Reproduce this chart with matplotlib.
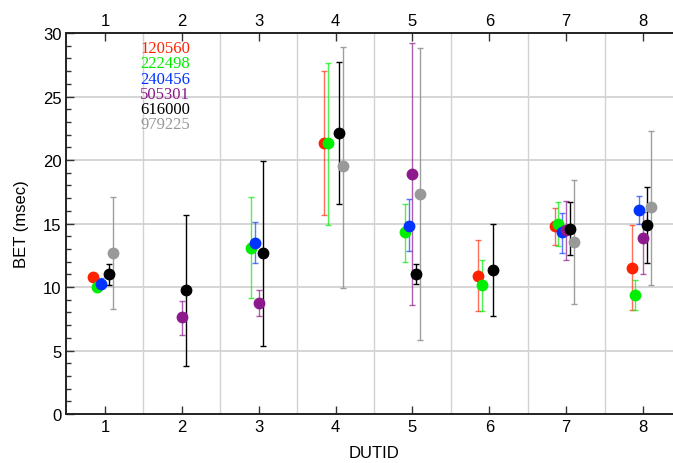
"""BET per DUTID with error bars, one colour per serial number."""

import matplotlib

matplotlib.use("Agg")
import matplotlib.pyplot as plt
import numpy as np
from matplotlib.ticker import MultipleLocator

nan = np.nan

DUTID = [1, 2, 3, 4, 5, 6, 7, 8]
SERIALS = ["120560", "222498", "240456", "505301", "616000", "979225"]
COLORS = ["#ff2200", "#00ee00", "#0033ff", "#8c1a8c", "#000000", "#999999"]

bet_120560 = [10.8, nan, nan, 21.3, nan, 10.9, 14.8, 11.5]
lo_120560 = [10.6, nan, nan, 15.7, nan, 8.1, 13.3, 8.2]
hi_120560 = [11.0, nan, nan, 27.0, nan, 13.7, 16.2, 14.9]

bet_222498 = [10.0, nan, 13.1, 21.3, 14.3, 10.15, 14.95, 9.4]
lo_222498 = [9.9, nan, 9.1, 14.9, 12.0, 8.1, 13.2, 8.2]
hi_222498 = [10.2, nan, 17.1, 27.6, 16.5, 12.15, 16.7, 10.55]

bet_240456 = [10.2, nan, 13.5, nan, 14.8, nan, 14.3, 16.1]
lo_240456 = [10.0, nan, 11.9, nan, 12.8, nan, 12.65, 14.95]
hi_240456 = [10.7, nan, 15.1, nan, 16.9, nan, 15.8, 17.2]

bet_505301 = [nan, 7.6, 8.75, nan, 18.9, nan, 14.5, 13.85]
lo_505301 = [nan, 6.25, 7.75, nan, 8.6, nan, 12.15, 11.0]
hi_505301 = [nan, 8.9, 9.8, nan, 29.2, nan, 16.8, 15.9]

bet_616000 = [11.0, 9.75, 12.65, 22.1, 11.0, 11.3, 14.6, 14.9]
lo_616000 = [10.15, 3.8, 5.35, 16.5, 10.2, 7.7, 12.5, 11.9]
hi_616000 = [11.8, 15.65, 19.9, 27.7, 11.8, 14.95, 16.7, 17.85]

bet_979225 = [12.7, nan, nan, 19.5, 17.35, nan, 13.55, 16.3]
lo_979225 = [8.3, nan, nan, 9.9, 5.8, nan, 8.7, 10.15]
hi_979225 = [17.1, nan, nan, 28.9, 28.8, nan, 18.4, 22.3]

SERIES = [
    (bet_120560, lo_120560, hi_120560),
    (bet_222498, lo_222498, hi_222498),
    (bet_240456, lo_240456, hi_240456),
    (bet_505301, lo_505301, hi_505301),
    (bet_616000, lo_616000, hi_616000),
    (bet_979225, lo_979225, hi_979225),
]
OFFSETS = [-0.15, -0.10, -0.05, 0.0, 0.05, 0.10]
# error-bar opacity per series (black and gray bars look solid)
EALPHA = [0.65, 0.7, 0.65, 0.7, 1.0, 0.95]

plt.rcParams["font.family"] = ["Liberation Sans", "DejaVu Sans"]

fig = plt.figure(figsize=(6.73, 4.64), dpi=100)
ax = fig.add_axes([0.0988, 0.1056, 0.9138, 0.8211])

x = np.array(DUTID, dtype=float)
for (val, lo, hi), color, off, ealpha in zip(SERIES, COLORS, OFFSETS, EALPHA):
    val = np.array(val)
    yerr = [val - np.array(lo), np.array(hi) - val]
    _, caps, bars = ax.errorbar(
        x + off, val, yerr=yerr, fmt="o", color=color, ms=7.5,
        ecolor=color, elinewidth=1.0, capsize=2.5, capthick=1.0, zorder=3,
    )
    for art in list(caps) + list(bars):
        art.set_alpha(ealpha)

# serial-number labels, drawn in the serif face
for i, (name, color) in enumerate(zip(SERIALS, COLORS)):
    ax.text(1.46, 28.8 - 1.2 * i, name, color=color, fontsize=12,
            family="Liberation Serif", va="center", ha="left")

ax.set_xlim(0.5, 8.5)
ax.set_ylim(0, 30)
ax.set_xticks(DUTID)
ax.yaxis.set_major_locator(MultipleLocator(5))
ax.yaxis.set_minor_locator(MultipleLocator(1))
ax.tick_params(axis="both", which="both", direction="in", labelsize=12,
               top=True, labeltop=True, width=1.0, color="#333333")
ax.tick_params(axis="both", which="major", length=6)
ax.tick_params(axis="both", which="minor", length=3.5)

for v in np.arange(1.5, 8.5, 1.0):
    ax.axvline(v, color="#d2d2d2", lw=1.0, zorder=0)
for h in range(5, 30, 5):
    ax.axhline(h, color="#d2d2d2", lw=1.3, zorder=0)

for side in ("left", "bottom", "top"):
    ax.spines[side].set_linewidth(1.4)
    ax.spines[side].set_color("#222222")

ax.set_xlabel("DUTID", fontsize=12, labelpad=8)
ax.set_ylabel("BET (msec)", fontsize=12, labelpad=10)

fig.savefig("out.png", dpi=100)
